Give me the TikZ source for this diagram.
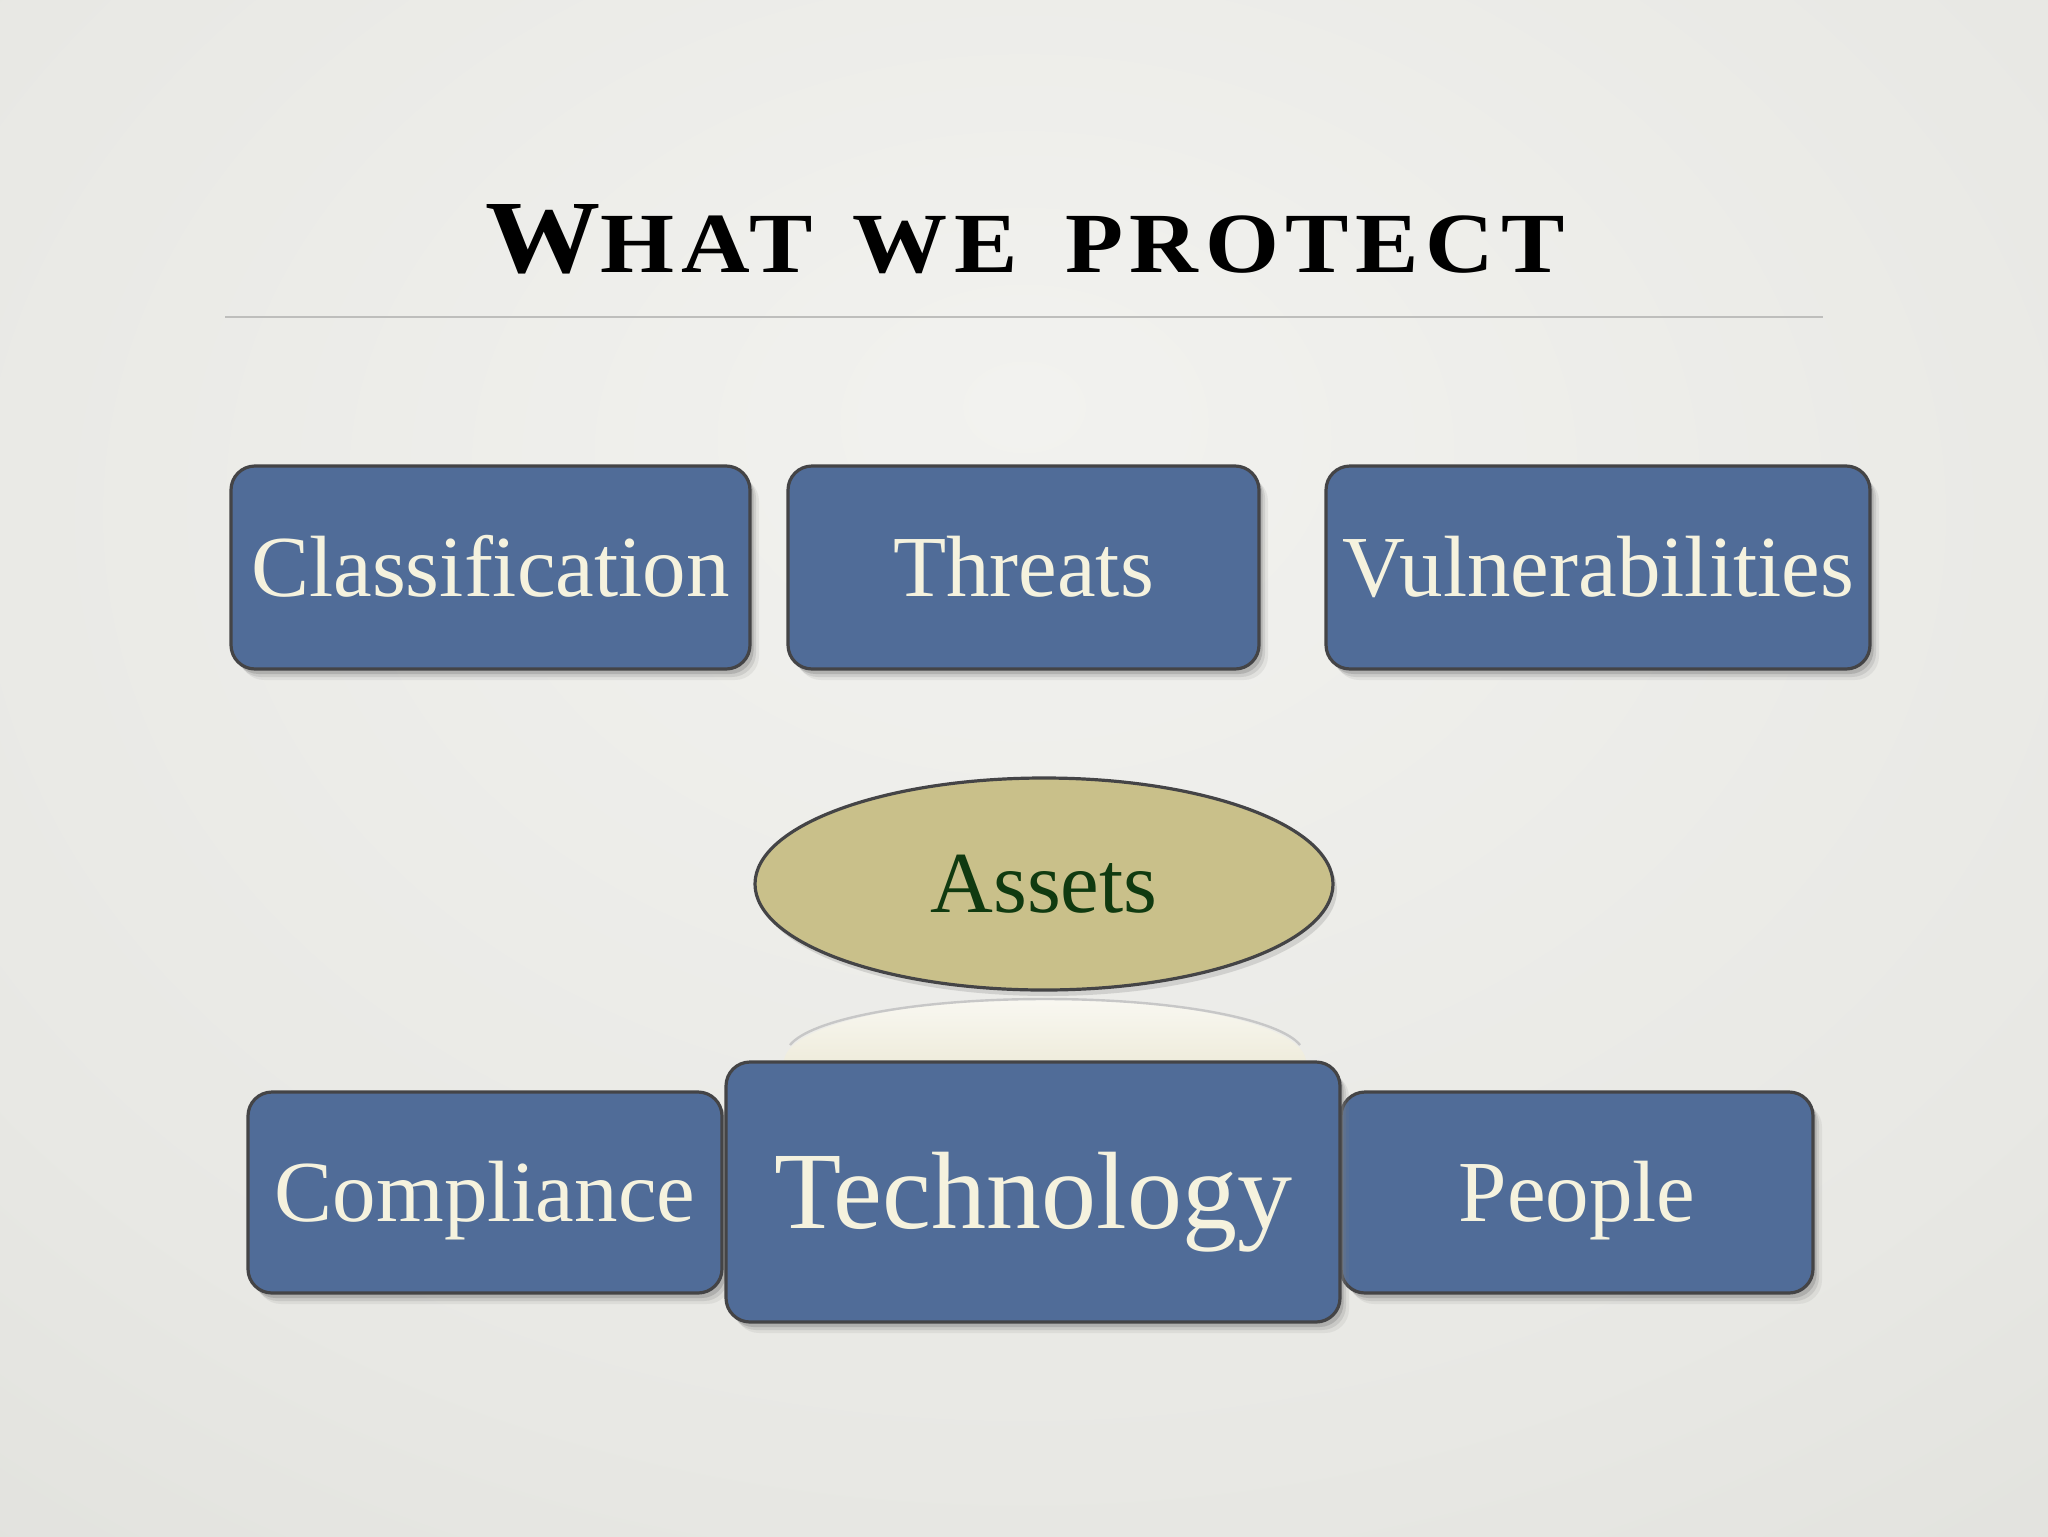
\documentclass[tikz,border=0pt]{standalone}
\usepackage{fontspec}
\usetikzlibrary{shapes.geometric,shadows}
\newfontfamily\titlefont[LetterSpace=7]{Liberation Serif}
\newfontfamily\labelfont{Liberation Serif}
\definecolor{bgin}{RGB}{242,242,239}
\definecolor{bgmid}{RGB}{232,232,228}
\definecolor{bgout}{RGB}{207,208,203}
\definecolor{boxblue}{RGB}{80,108,152}
\definecolor{boxborder}{RGB}{68,68,70}
\definecolor{boxtext}{RGB}{245,242,222}
\definecolor{khaki}{RGB}{201,192,138}
\definecolor{assettext}{RGB}{16,58,16}
\definecolor{rulegray}{RGB}{190,190,188}
\pgfdeclareradialshading{bgshade}{\pgfpoint{0bp}{12bp}}{color(0bp)=(bgin); color(30bp)=(bgmid); color(72bp)=(bgout)}
\begin{document}
\begin{tikzpicture}[x=0.5pt,y=-0.5pt,
  box/.style={draw=boxborder, line width=1.6pt, fill=boxblue, rounded corners=12pt,
    text=boxtext, inner sep=0pt, font=\labelfont\fontsize{43.5}{50}\selectfont,
    text height=28.8pt, text depth=0pt,
    drop shadow={shadow xshift=4.5pt, shadow yshift=-5.5pt, opacity=0.12},
    drop shadow={shadow xshift=3pt, shadow yshift=-4pt, opacity=0.2},
    drop shadow={shadow xshift=1.8pt, shadow yshift=-2.5pt, opacity=0.35}},
  topbox/.style={box, minimum height=101.5pt},
  lowbox/.style={box, minimum height=100.5pt},
]
\useasboundingbox (0,0) rectangle (2048,1536);
\shade[shading=bgshade] (0,0) rectangle (2048,1536);
% title
\node[anchor=base, inner sep=0pt] (title) at (1025,272)
  {\resizebox{539.5pt}{34pt}{\titlefont\bfseries\fontsize{20}{24}\selectfont W\fontsize{16.5}{20}\selectfont HAT\hspace{0.42em}WE\hspace{0.5em}PROTECT}};
\coordinate (ruleL) at (225,317);
\coordinate (ruleR) at (1823,317);
\draw[rulegray, line width=1pt] (ruleL) -- (ruleR);
% top row
\node[topbox, minimum width=259.5pt] (class) at (490.5,567.5) {Classification};
\node[topbox, minimum width=235.5pt] (threats) at (1023.5,567.5) {Threats};
\node[topbox, minimum width=272pt] (vuln) at (1598,567.5) {Vulnerabilities};
% reflection of the ellipse
\shade[top color=khaki!12!white, bottom color=khaki!30!white]
  (784,1062) .. controls (784,1027) and (901,999) .. (1045,999)
  .. controls (1189,999) and (1306,1027) .. (1306,1062) -- cycle;
\draw[black!22, line width=1.2pt]
  (790,1045) .. controls (810,1020) and (910,999) .. (1045,999)
  .. controls (1180,999) and (1280,1020) .. (1300,1045);
% assets
\node[ellipse, draw=boxborder, line width=1.6pt, fill=khaki, inner sep=0pt,
  minimum width=289pt, minimum height=106pt, text=assettext,
  font=\labelfont\fontsize{43.5}{50}\selectfont, text height=28.8pt, text depth=0pt,
  drop shadow={shadow xshift=2pt, shadow yshift=-3pt, opacity=0.25}]
  (assets) at (1044,884) {Assets};
% bottom row
\node[lowbox, minimum width=237pt] (comp) at (485,1192.5) {Compliance};
\node[lowbox, minimum width=236pt] (people) at (1577,1192.5) {People};
\node[box, minimum width=307pt, minimum height=130pt,
  font=\labelfont\fontsize{55}{64}\selectfont, text height=36.4pt] (tech) at (1033,1192) {Technology};
\end{tikzpicture}
\end{document}
